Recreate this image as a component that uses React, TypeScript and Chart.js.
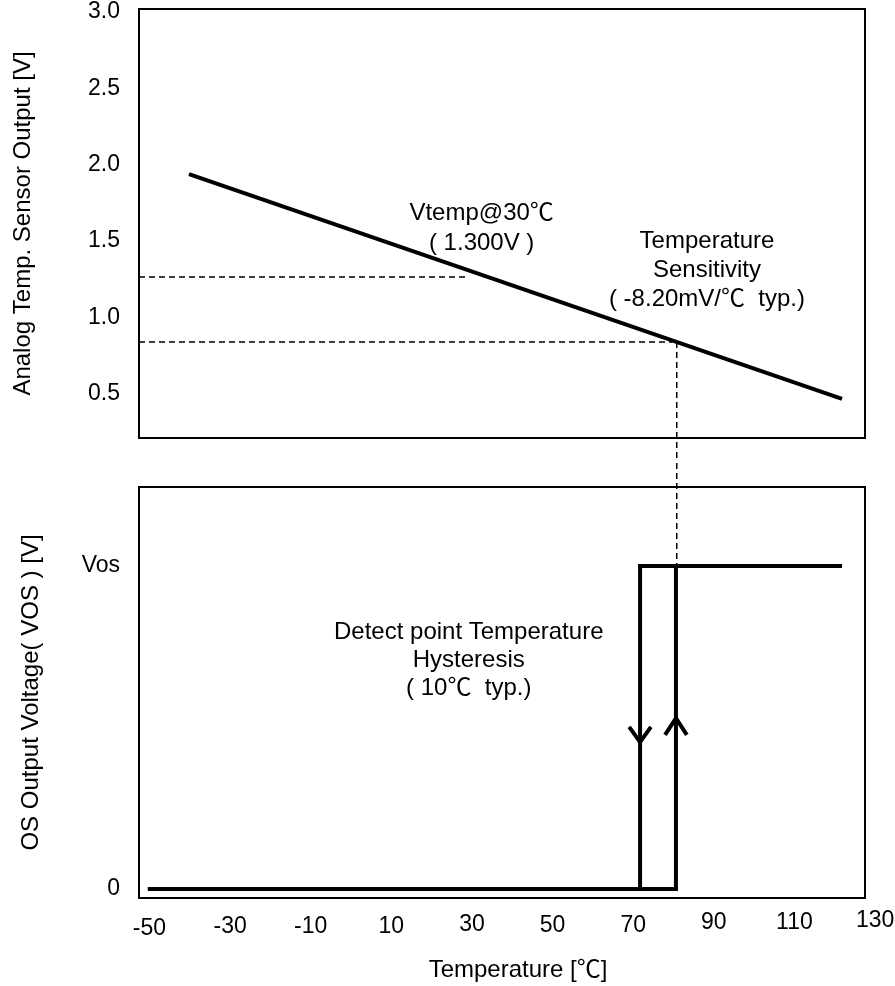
import React, { useEffect, useRef } from "react";
import { Chart, registerables } from "chart.js";

Chart.register(...registerables);

// ---------- shared x axis: temperature [°C] ----------
const tempTicks = [-50, -30, -10, 10, 30, 50, 70, 90, 110, 130];
const tempMin = -52.6;
const tempMax = 127.5;

// ---------- top panel: analog temp. sensor output [V] ----------
const sensorTicks = [0.5, 1.0, 1.5, 2.0, 2.5, 3.0];
const sensorMin = 0.208;
const sensorMax = 3.02;
const sensorTemps = [-40.2, 121.8];
const sensorVolts = [1.938, 0.464];
const vtempGuideTemps = [-52.6, 28.8];
const vtempGuideVolts = [1.263, 1.263];
const detectGuideTemps = [-52.6, 79.7];
const detectGuideVolts = [0.838, 0.838];
const detectDropTemps = [80.8, 80.8];
const detectDropVolts = [0.838, 0.0];

// ---------- bottom panel: OS output voltage ----------
const osTicks = [0, 1];
const osTickLabels = ["0", "Vos"];
const osMin = -0.028;
const osMax = 1.245;
const heatTemps = [-50.4, 80.6, 80.6, 121.8];
const heatLevels = [0, 0, 1, 1];
const coolTemps = [121.8, 71.7, 71.7, -50.4];
const coolLevels = [1, 1, 0, 0];
const downArrowTemps = [69.0, 71.7, 74.4];
const downArrowLevels = [0.502, 0.455, 0.502];
const upArrowTemps = [77.9, 80.6, 83.3];
const upArrowLevels = [0.477, 0.529, 0.477];
const detectRiseTemps = [80.8, 80.8];
const detectRiseLevels = [1.35, 1];

// ---------- text ----------
const topYTitle = "Analog Temp. Sensor Output [V]";
const bottomYTitle = "OS Output Voltage( VOS ) [V]";
const xTitle = "Temperature [℃]";
const topNotes = [
  { lines: ["Vtemp@30℃", "( 1.300V )"], x: 32.4, y: 1.585, lh: 30 },
  { lines: ["Temperature", "Sensitivity", "( -8.20mV/℃  typ.)"], x: 88.3, y: 1.305, lh: 29 },
];
const bottomNotes = [
  { lines: ["Detect point Temperature", "Hysteresis", "( 10℃  typ.)"], x: 29.2, y: 0.709, lh: 28 },
];
const tickLabelDy = [3, 1, 1, 1, -1, 0, 0, -3, -3, -5];

const FONT_FAMILY = '"Liberation Sans", Arial, "Noto Sans CJK JP", sans-serif';
const FONT_SIZE = 24;
const TICK_SIZE = 23;
const W = 895;
const TOP_H = 462;
const BOT_H = 524;

const pts = (xs: number[], ys: number[]) => xs.map((x, i) => ({ x, y: ys[i] }));

const framePlugin = {
  id: "frame",
  beforeDatasetsDraw(chart: any) {
    const { ctx, chartArea } = chart;
    ctx.save();
    ctx.strokeStyle = "#000";
    ctx.lineWidth = 2;
    ctx.strokeRect(chartArea.left, chartArea.top, chartArea.right - chartArea.left, chartArea.bottom - chartArea.top);
    ctx.restore();
  },
};

const makeNotesPlugin = (notes: { lines: string[]; x: number; y: number; lh: number }[]) => ({
  id: "notes",
  afterDatasetsDraw(chart: any) {
    const { ctx } = chart;
    const xs = chart.scales.x;
    const ys = chart.scales.y;
    ctx.save();
    ctx.font = `${FONT_SIZE}px ${FONT_FAMILY}`;
    ctx.fillStyle = "#000";
    ctx.textAlign = "center";
    ctx.textBaseline = "middle";
    for (const n of notes) {
      const cx = xs.getPixelForValue(n.x);
      const cy = ys.getPixelForValue(n.y);
      const mid = (n.lines.length - 1) / 2;
      n.lines.forEach((t, i) => ctx.fillText(t, cx, cy + (i - mid) * n.lh));
    }
    ctx.restore();
  },
});

const xAxisTextPlugin = {
  id: "xAxisText",
  afterDraw(chart: any) {
    const { ctx, chartArea } = chart;
    const xs = chart.scales.x;
    ctx.save();
    ctx.fillStyle = "#000";
    ctx.textAlign = "center";
    ctx.textBaseline = "middle";
    ctx.font = `${TICK_SIZE}px ${FONT_FAMILY}`;
    tempTicks.forEach((v, i) => {
      ctx.fillText(String(v), xs.getPixelForValue(v), chartArea.bottom + 28 + tickLabelDy[i]);
    });
    ctx.font = `${FONT_SIZE}px ${FONT_FAMILY}`;
    ctx.fillText(xTitle, (chartArea.left + chartArea.right) / 2 + 16, chartArea.bottom + 72);
    ctx.restore();
  },
};

const lineDs = (data: any[], width: number, dash: number[] = []) => ({
  data,
  showLine: true,
  borderColor: "#000",
  backgroundColor: "#000",
  borderWidth: width,
  borderDash: dash,
  pointRadius: 0,
  pointHoverRadius: 0,
  borderJoinStyle: "miter" as const,
  borderCapStyle: "butt" as const,
  tension: 0,
  clip: false as const,
});

const yAxisCommon = (title: string, titlePad: number, min: number, max: number, ticks: number[], label: (v: number) => string) => ({
  type: "linear" as const,
  position: "left" as const,
  min,
  max,
  grid: { display: false, drawTicks: false },
  border: { display: false },
  ticks: {
    color: "#000",
    padding: 19,
    font: { size: TICK_SIZE, family: FONT_FAMILY },
    callback: (v: any) => label(Number(v)),
  },
  title: {
    display: true,
    text: title,
    color: "#000",
    font: { size: FONT_SIZE, family: FONT_FAMILY },
    padding: { top: titlePad, bottom: 0 },
  },
  afterBuildTicks: (axis: any) => {
    axis.ticks = ticks.map((value) => ({ value }));
  },
  afterFit: (axis: any) => {
    axis.width = 139;
    axis.paddingTop = 0;
    axis.paddingBottom = 0;
  },
});

const xAxis = {
  type: "linear" as const,
  display: false,
  min: tempMin,
  max: tempMax,
};

export default function App() {
  const topRef = useRef<HTMLCanvasElement>(null);
  const botRef = useRef<HTMLCanvasElement>(null);

  useEffect(() => {
    Chart.defaults.font.family = FONT_FAMILY;
    const common = {
      animation: false as const,
      responsive: false,
      maintainAspectRatio: false,
      devicePixelRatio: 1,
      events: [] as any[],
      plugins: { legend: { display: false }, tooltip: { enabled: false } },
    };

    const top = new Chart(topRef.current!, {
      type: "scatter",
      data: {
        datasets: [
          lineDs(pts(sensorTemps, sensorVolts), 4),
          lineDs(pts(vtempGuideTemps, vtempGuideVolts), 1.5, [6, 4]),
          lineDs(pts(detectGuideTemps, detectGuideVolts), 1.5, [6, 4]),
          lineDs(pts(detectDropTemps, detectDropVolts), 1.5, [6, 4]),
        ],
      },
      options: {
        ...common,
        layout: { padding: { left: 0, right: 30, top: 9, bottom: 24 } },
        scales: {
          x: xAxis,
          y: yAxisCommon(topYTitle, 8.6, sensorMin, sensorMax, sensorTicks, (v) => v.toFixed(1)),
        },
      },
      plugins: [framePlugin, makeNotesPlugin(topNotes)],
    } as any);

    const bottom = new Chart(botRef.current!, {
      type: "scatter",
      data: {
        datasets: [
          lineDs(pts(heatTemps, heatLevels), 4),
          lineDs(pts(coolTemps, coolLevels), 4),
          lineDs(pts(downArrowTemps, downArrowLevels), 4),
          lineDs(pts(upArrowTemps, upArrowLevels), 4),
          lineDs(pts(detectRiseTemps, detectRiseLevels), 1.5, [6, 4]),
        ],
      },
      options: {
        ...common,
        layout: { padding: { left: 0, right: 30, top: 25, bottom: 88 } },
        scales: {
          x: xAxis,
          y: yAxisCommon(bottomYTitle, 16.6, osMin, osMax, osTicks, (v) => osTickLabels[osTicks.indexOf(v)] ?? ""),
        },
      },
      plugins: [framePlugin, makeNotesPlugin(bottomNotes), xAxisTextPlugin],
    } as any);

    return () => {
      top.destroy();
      bottom.destroy();
    };
  }, []);

  return (
    <div style={{ position: "absolute", left: 0, top: 0, width: W, height: TOP_H + BOT_H, background: "#fff" }}>
      <canvas
        ref={topRef}
        width={W}
        height={TOP_H}
        style={{ position: "absolute", left: 0, top: 0, width: W, height: TOP_H, display: "block" }}
      />
      <canvas
        ref={botRef}
        width={W}
        height={BOT_H}
        style={{ position: "absolute", left: 0, top: TOP_H, width: W, height: BOT_H, display: "block" }}
      />
    </div>
  );
}
